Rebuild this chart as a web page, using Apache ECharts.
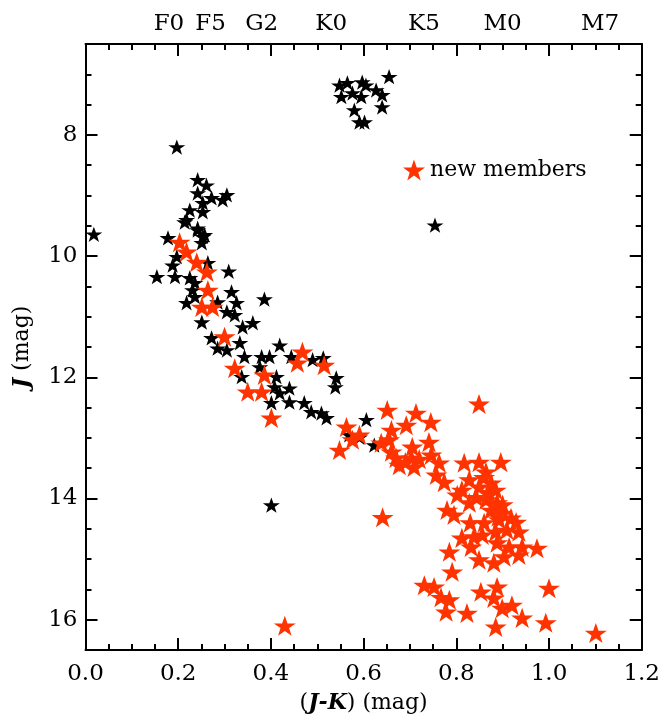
<!DOCTYPE html>
<html><head><meta charset="utf-8">
<script src="https://cdn.jsdelivr.net/npm/echarts@6/dist/echarts.min.js"></script>
<style>html,body{margin:0;padding:0;background:#fff}#c{width:663px;height:719px}</style>
</head><body><div id="c"></div>
<script>
// ---- data: [J-K, J] ----
const knownMembers = [
  [0.548,7.18],[0.565,7.14],[0.597,7.13],[0.605,7.18],[0.655,7.04],[0.627,7.26],[0.640,7.34],
  [0.552,7.37],[0.576,7.31],[0.595,7.37],[0.580,7.59],[0.640,7.54],[0.591,7.79],[0.602,7.79],
  [0.018,9.64],[0.197,8.20],[0.242,8.74],[0.261,8.83],[0.242,8.96],[0.272,9.04],[0.305,8.99],
  [0.296,9.07],[0.253,9.12],[0.225,9.24],[0.253,9.27],[0.218,9.40],[0.242,9.57],[0.253,9.68],
  [0.178,9.70],[0.214,9.44],[0.242,9.54],[0.257,9.65],[0.251,9.78],[0.197,10.01],[0.188,10.15],
  [0.154,10.34],[0.193,10.34],[0.225,10.36],[0.236,10.44],[0.231,10.56],[0.236,10.67],[0.264,10.11],
  [0.309,10.25],[0.315,10.59],[0.326,10.77],[0.386,10.71],[0.218,10.77],[0.285,10.76],[0.305,10.92],
  [0.322,10.97],[0.251,11.09],[0.339,11.17],[0.361,11.10],[0.272,11.35],[0.285,11.52],[0.305,11.55],
  [0.333,11.43],[0.419,11.47],[0.343,11.66],[0.380,11.66],[0.397,11.66],[0.376,11.83],[0.444,11.66],
  [0.490,11.71],[0.513,11.68],[0.541,12.01],[0.539,12.16],[0.337,11.99],[0.412,11.99],[0.408,12.16],
  [0.440,12.18],[0.419,12.26],[0.440,12.41],[0.401,12.42],[0.472,12.42],[0.487,12.57],[0.509,12.59],
  [0.520,12.67],[0.606,12.70],[0.569,12.95],[0.591,12.99],[0.623,13.12],[0.754,9.49],[0.401,14.11]
];
const newMembers = [
  [0.203,9.77],[0.218,9.93],[0.240,10.10],[0.262,10.26],[0.264,10.56],[0.251,10.84],[0.274,10.84],
  [0.300,11.33],[0.322,11.85],[0.386,11.96],[0.350,12.24],[0.380,12.24],[0.468,11.58],[0.457,11.76],
  [0.515,11.80],[0.401,12.67],[0.563,12.82],[0.591,12.95],[0.548,13.20],[0.576,13.03],[0.651,12.54],
  [0.713,12.59],[0.745,12.74],[0.692,12.79],[0.660,12.87],[0.655,13.03],[0.638,13.08],[0.849,12.44],
  [0.741,13.07],[0.670,13.33],[0.703,13.33],[0.709,13.48],[0.677,13.45],[0.746,13.28],[0.763,13.41],
  [0.757,13.61],[0.774,13.73],[0.817,13.41],[0.849,13.40],[0.896,13.40],[0.864,13.56],[0.828,13.69],
  [0.812,13.86],[0.802,13.94],[0.849,13.81],[0.875,13.74],[0.843,13.98],[0.864,14.02],[0.885,13.86],
  [0.828,14.07],[0.780,14.19],[0.795,14.27],[0.875,14.19],[0.888,14.07],[0.899,14.24],[0.918,14.32],
  [0.892,14.35],[0.929,14.39],[0.885,14.55],[0.909,14.52],[0.935,14.55],[0.812,14.65],[0.838,14.63],
  [0.856,14.60],[0.832,14.80],[0.888,14.73],[0.914,14.80],[0.942,14.80],[0.974,14.82],[0.785,14.88],
  [0.849,15.01],[0.881,15.06],[0.903,14.96],[0.935,14.93],[0.791,15.21],[0.731,15.43],[0.752,15.46],
  [0.767,15.63],[0.785,15.67],[0.778,15.87],[0.823,15.89],[0.853,15.54],[0.888,15.46],[0.881,15.64],
  [0.899,15.81],[0.920,15.76],[0.942,15.97],[0.885,16.12],[0.993,16.05],[1.000,15.48],[1.101,16.22],
  [0.430,16.10],[0.641,14.31],[0.660,13.23],[0.705,13.15],[0.690,13.40],[0.720,13.35],[0.860,13.65],
  [0.870,13.90],[0.900,14.10],[0.890,14.30],[0.860,14.40],[0.830,14.40]
];
const yMajorTicks = [8, 10, 12, 14, 16];
const spectralTypes = ['F0', 'F5', 'G2', 'K0', 'K5', 'M0', 'M7'];
const spectralJK = [0.18, 0.27, 0.38, 0.53, 0.73, 0.90, 1.11];

const FONT = 'DejaVu Serif';
const FS = 23;
const STAR = 'path://M50,0 L61.8,35.1 L98.1,35.1 L68.8,56.7 L79.4,91.9 L50,70 L20.6,91.9 L31.2,56.7 L1.9,35.1 L38.2,35.1 Z';
const lineStyle = {color: '#000', width: 2};

const chart = echarts.init(document.getElementById('c'), null, {renderer: 'canvas'});
const xBase = {type: 'value', min: 0, max: 1.2, interval: 0.2, splitLine: {show: false}};
const yBase = {type: 'value', min: 6.5, max: 16.5, inverse: true, splitLine: {show: false}};

chart.setOption({
  animation: false,
  backgroundColor: '#fff',
  grid: {left: 85.5, right: 20, top: 44, bottom: 69, containLabel: false},
  legend: {
    data: ['new members'], left: 398, top: 154, icon: STAR, itemWidth: 22, itemHeight: 21, itemGap: 6,
    textStyle: {fontFamily: FONT, fontSize: 22, color: '#000'}
  },
  xAxis: [
    Object.assign({}, xBase, {
      position: 'bottom',
      axisLine: {show: true, onZero: false, lineStyle},
      axisTick: {show: true, inside: true, length: 12, lineStyle},
      minorTick: {show: true, splitNumber: 4, length: 6, lineStyle},
      axisLabel: {fontFamily: FONT, fontSize: FS, color: '#000', margin: 13, formatter: v => v.toFixed(1)},
      name: '{n|(}{b|J-K}{n|) (mag)}', nameLocation: 'middle', nameGap: 42,
      nameTextStyle: {color: '#000', rich: {
        n: {fontFamily: FONT, fontSize: 22, color: '#000'},
        b: {fontFamily: FONT, fontSize: 22, color: '#000', fontWeight: 'bold', fontStyle: 'italic'}
      }}
    }),
    Object.assign({}, xBase, {
      position: 'top',
      axisLine: {show: true, onZero: false, lineStyle},
      axisTick: {show: true, inside: true, length: 12, lineStyle},
      minorTick: {show: true, splitNumber: 4, length: 6, lineStyle},
      axisLabel: {show: false}
    }),
    Object.assign({}, xBase, {
      position: 'top',
      axisLine: {show: false, onZero: false},
      axisTick: {show: false},
      axisLabel: {
        show: true, customValues: spectralJK, fontFamily: FONT, fontSize: FS, color: '#000', margin: 8,
        formatter: v => {
          let best = 0;
          spectralJK.forEach((p, i) => { if (Math.abs(p - v) < Math.abs(spectralJK[best] - v)) best = i; });
          return spectralTypes[best];
        }
      }
    })
  ],
  yAxis: [
    Object.assign({}, yBase, {
      position: 'left', interval: 0.5,
      axisLine: {show: true, onZero: false, lineStyle},
      axisTick: {show: true, inside: true, length: 6, lineStyle},
      axisLabel: {fontFamily: FONT, fontSize: FS, color: '#000', margin: 8,
        formatter: v => (yMajorTicks.indexOf(Math.round(v * 100) / 100) >= 0 ? String(v) : '')},
      name: '{b|J}{n| (mag)}', nameLocation: 'middle', nameGap: 52, nameRotate: 90,
      nameTextStyle: {color: '#000', rich: {
        n: {fontFamily: FONT, fontSize: 22, color: '#000'},
        b: {fontFamily: FONT, fontSize: 22, color: '#000', fontWeight: 'bold', fontStyle: 'italic'}
      }}
    }),
    Object.assign({}, yBase, {
      position: 'left',
      axisLine: {show: false, onZero: false},
      axisTick: {show: true, inside: true, length: 12, lineStyle, customValues: yMajorTicks},
      axisLabel: {show: false}
    }),
    Object.assign({}, yBase, {
      position: 'right', interval: 0.5,
      axisLine: {show: true, onZero: false, lineStyle},
      axisTick: {show: true, inside: true, length: 6, lineStyle},
      axisLabel: {show: false}
    }),
    Object.assign({}, yBase, {
      position: 'right',
      axisLine: {show: false, onZero: false},
      axisTick: {show: true, inside: true, length: 12, lineStyle, customValues: yMajorTicks},
      axisLabel: {show: false}
    })
  ],
  series: [
    {
      name: 'known members', type: 'scatter', xAxisIndex: 0, yAxisIndex: 0,
      data: knownMembers, symbol: STAR, symbolSize: [17, 16], symbolKeepAspect: true,
      itemStyle: {color: '#000', opacity: 1}
    },
    {
      name: 'new members', type: 'scatter', xAxisIndex: 0, yAxisIndex: 0,
      data: newMembers, symbol: STAR, symbolSize: [22, 21], symbolKeepAspect: true,
      itemStyle: {color: '#ff3300', opacity: 1}
    }
  ]
});
</script>
</body></html>
